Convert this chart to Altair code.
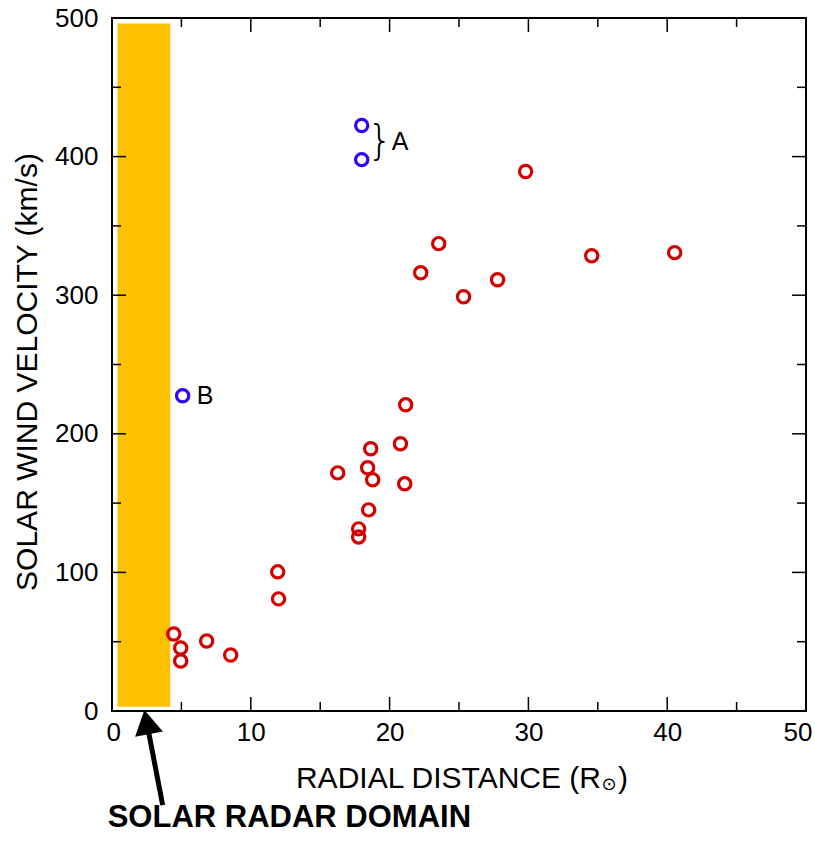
import altair as alt
import pandas as pd

# ---- data ----
red_x = [4.45, 4.95, 4.95, 6.82, 8.55, 11.94, 12.0, 16.26, 17.77, 17.77, 18.49, 18.42,
         18.64, 18.78, 20.78, 21.09, 21.16, 22.24, 23.54, 25.33, 27.78, 29.8, 34.56, 40.54]
red_y = [55.6, 45.5, 36.1, 50.5, 40.4, 100.4, 80.9, 171.8, 125.6, 131.4, 145.1, 175.5,
         189.2, 166.8, 192.8, 163.9, 220.9, 316.2, 337.2, 298.9, 311.2, 389.2, 328.5, 330.7]
blue_x = [17.99, 17.99, 5.09]
blue_y = [422.4, 397.8, 227.4]

band_x = [0.4]
band_x2 = [4.2]
band_y = [3]
band_y2 = [496]

x_major = [10, 20, 30, 40]
x_minor = [5, 15, 25, 35, 45]
y_major = [100, 200, 300, 400]
y_minor = [50, 150, 250, 350, 450]

label_text = ["A", "B"]
label_x = [20.15, 6.1]
label_y = [410.8, 227.0]

brace_x = [19.3]
brace_y = [410.8]

arrow_x = [3.65]
arrow_y = [-67.9]
arrow_x2 = [2.5]
arrow_y2 = [-8.0]

domain_text = ["SOLAR RADAR DOMAIN"]
domain_x = [-0.31]
domain_y = [-83.8]

W, H = 694, 693
FONT = "Liberation Sans"

xs = alt.Scale(domain=[0, 50], nice=False, zero=False)
ys = alt.Scale(domain=[0, 500], nice=False, zero=False)

pts = pd.DataFrame({
    "x": red_x + blue_x,
    "y": red_y + blue_y,
    "g": ["red"] * len(red_x) + ["blue"] * len(blue_x),
})

band = alt.Chart(pd.DataFrame({"x": band_x, "x2": band_x2, "y": band_y, "y2": band_y2})).mark_rect(
    color="#ffc000").encode(
    x=alt.X("x:Q", scale=xs, axis=alt.Axis(values=[0, 10, 20, 30, 40, 50], grid=False, domain=False,
                                           ticks=False, tickSize=0, labelFontSize=26, labelFont=FONT,
                                           labelColor="black", labelPadding=8, title=None,
                                           labelFlush=True, labelFlushOffset=6)),
    x2="x2:Q",
    y=alt.Y("y:Q", scale=ys, axis=alt.Axis(values=[0, 100, 200, 300, 400, 500], grid=False, domain=False,
                                           ticks=False, tickSize=0, labelFontSize=26, labelFont=FONT,
                                           labelColor="black", labelPadding=14, title=None, labelFlush=False)),
    y2="y2:Q",
)

points = alt.Chart(pts).mark_point(filled=False, size=150, strokeWidth=3.2, opacity=1).encode(
    x=alt.X("x:Q", scale=xs),
    y=alt.Y("y:Q", scale=ys),
    color=alt.Color("g:N", scale=alt.Scale(domain=["red", "blue"], range=["#d40000", "#3300ff"]), legend=None),
)

def tick_layer(vals, length, side):
    df = pd.DataFrame({"v": vals})
    base = alt.Chart(df).mark_rule(color="black", strokeWidth=1.5)
    if side == "bottom":
        return base.encode(x=alt.X("v:Q", scale=xs), y=alt.value(H), y2=alt.value(H - length))
    if side == "top":
        return base.encode(x=alt.X("v:Q", scale=xs), y=alt.value(0), y2=alt.value(length))
    if side == "left":
        return base.encode(y=alt.Y("v:Q", scale=ys), x=alt.value(0), x2=alt.value(length))
    return base.encode(y=alt.Y("v:Q", scale=ys), x=alt.value(W), x2=alt.value(W - length))

ticks = []
for side in ["bottom", "top"]:
    ticks.append(tick_layer(x_major, 14, side))
    ticks.append(tick_layer(x_minor, 9, side))
for side in ["left", "right"]:
    ticks.append(tick_layer(y_major, 14, side))
    ticks.append(tick_layer(y_minor, 9, side))

labels = alt.Chart(pd.DataFrame({"t": label_text, "x": label_x, "y": label_y})).mark_text(
    align="left", baseline="middle", fontSize=25, font=FONT, color="black").encode(
    x=alt.X("x:Q", scale=xs), y=alt.Y("y:Q", scale=ys), text="t:N")

brace = alt.Chart(pd.DataFrame({"x": brace_x, "y": brace_y, "t": ["}"]})).mark_text(
    align="center", baseline="middle", fontSize=40, font="DejaVu Sans", fontWeight="lighter",
    color="black").encode(x=alt.X("x:Q", scale=xs), y=alt.Y("y:Q", scale=ys), text="t:N")

arrow_shaft = alt.Chart(pd.DataFrame({"x": arrow_x, "y": arrow_y, "x2": arrow_x2, "y2": arrow_y2})).mark_rule(
    color="black", strokeWidth=5, clip=False).encode(
    x=alt.X("x:Q", scale=xs), y=alt.Y("y:Q", scale=ys), x2="x2:Q", y2="y2:Q")

arrow_head = alt.Chart(pd.DataFrame({"x": arrow_x2, "y": arrow_y2})).mark_point(
    shape="triangle-up", filled=True, size=800, color="black", opacity=1, angle=349, clip=False).encode(
    x=alt.X("x:Q", scale=xs), y=alt.Y("y:Q", scale=ys))

domain_label = alt.Chart(pd.DataFrame({"t": domain_text, "x": domain_x, "y": domain_y})).mark_text(
    align="left", baseline="alphabetic", fontSize=31, font=FONT, fontWeight="bold", color="black").encode(
    x=alt.X("x:Q", scale=xs), y=alt.Y("y:Q", scale=ys), text="t:N")

# axis titles as text (with subscript sun symbol)
xtitle_main = alt.Chart(pd.DataFrame({"t": ["RADIAL DISTANCE (R"]})).mark_text(
    align="right", baseline="alphabetic", fontSize=30, font=FONT, color="black").encode(
    x=alt.value(601 - 112), y=alt.value(788 - 18), text="t:N")
xtitle_sun = alt.Chart(pd.DataFrame({"t": ["\u2299"]})).mark_text(
    align="center", baseline="middle", fontSize=18, font="DejaVu Sans", color="black").encode(
    x=alt.value(609 - 112), y=alt.value(785 - 18), text="t:N")
xtitle_close = alt.Chart(pd.DataFrame({"t": [")"]})).mark_text(
    align="left", baseline="alphabetic", fontSize=30, font=FONT, color="black").encode(
    x=alt.value(618 - 112), y=alt.value(788 - 18), text="t:N")
ytitle = alt.Chart(pd.DataFrame({"t": ["SOLAR WIND VELOCITY (km/s)"]})).mark_text(
    align="center", baseline="alphabetic", fontSize=30, font=FONT, color="black", angle=270).encode(
    x=alt.value(37 - 112), y=alt.value(372 - 18), text="t:N")

chart = alt.layer(
    band, points, *ticks, labels, brace, arrow_shaft, arrow_head, domain_label,
    xtitle_main, xtitle_sun, xtitle_close, ytitle
).properties(
    width=W, height=H,
    autosize=alt.AutoSizeParams(type="none"),
    padding={"left": 112, "top": 18, "right": 9, "bottom": 130},
    background="white",
).configure_view(stroke="black", strokeWidth=2)

chart.save("out.html", embed_options={"renderer": "svg", "actions": False})
